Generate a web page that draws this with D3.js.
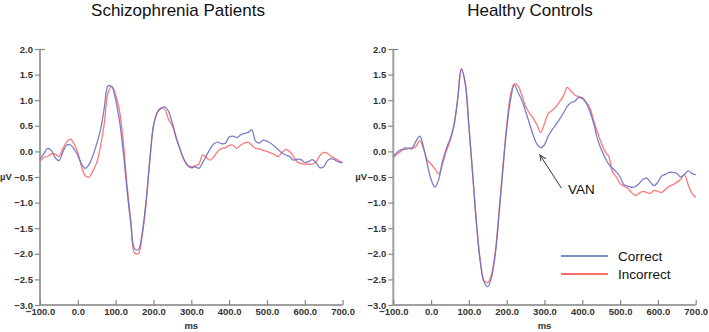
<!DOCTYPE html>
<html><head><meta charset="utf-8">
<script src="https://cdn.jsdelivr.net/npm/d3@7"></script>
<style>
body{margin:0;background:#fff;}
svg{display:block;font-family:"Liberation Sans",Arial,sans-serif;}
</style></head>
<body>
<svg id="chart" width="709" height="332"></svg>
<script>
const times = d3.range(-100, 701, 10);
const xTicks = [-100,0,100,200,300,400,500,600,700];
const yTicks = [2.0,1.5,1.0,0.5,0.0,-0.5,-1.0,-1.5,-2.0,-2.5,-3.0];
const seriesNames = ["Correct","Incorrect"];
const panelTitles = ["Schizophrenia Patients","Healthy Controls"];

const szCorrect = [-0.15,-0.05,0.06,0.02,-0.12,-0.18,-0.02,0.12,0.13,0.05,
 -0.08,-0.25,-0.33,-0.25,-0.08,0.15,0.42,0.85,1.28,1.26,
 1.0,0.6,0.0,-0.75,-1.4,-1.9,-1.92,-1.6,-1.0,-0.2,
 0.5,0.75,0.84,0.87,0.78,0.55,0.28,0.05,-0.15,-0.27,
 -0.32,-0.3,-0.33,-0.22,-0.08,0.05,0.15,0.18,0.15,0.16,
 0.28,0.3,0.27,0.32,0.35,0.37,0.42,0.2,0.16,0.22,
 0.2,0.16,0.1,0.03,-0.03,-0.07,-0.1,-0.17,-0.15,-0.16,
 -0.22,-0.2,-0.16,-0.22,-0.32,-0.3,-0.18,-0.14,-0.17,-0.21,-0.22];
const szIncorrect = [-0.2,-0.12,-0.1,-0.05,-0.05,-0.1,0.05,0.18,0.24,0.15,
 -0.02,-0.3,-0.48,-0.5,-0.38,-0.22,0.1,0.55,1.15,1.27,
 1.1,0.8,0.2,-0.65,-1.35,-1.98,-2.0,-1.65,-1.05,-0.2,
 0.5,0.77,0.85,0.82,0.62,0.5,0.25,0.05,-0.15,-0.27,
 -0.3,-0.28,-0.25,-0.07,-0.12,-0.17,-0.1,0.0,0.06,0.07,
 0.12,0.12,0.06,0.12,0.16,0.18,0.12,0.06,0.05,0.02,
 0.0,-0.03,-0.06,-0.1,-0.02,0.04,0.0,-0.1,-0.2,-0.24,
 -0.25,-0.25,-0.25,-0.2,-0.08,-0.02,-0.04,-0.1,-0.14,-0.18,-0.22];
const hcCorrect = [-0.1,-0.02,0.03,0.04,0.06,0.07,0.2,0.3,0.08,-0.25,
 -0.55,-0.7,-0.55,-0.2,0.05,0.24,0.5,1.0,1.6,1.35,
 0.5,-0.45,-1.4,-2.15,-2.55,-2.64,-2.45,-2.0,-1.2,-0.35,
 0.45,1.0,1.3,1.15,1.0,0.78,0.55,0.32,0.14,0.07,
 0.13,0.3,0.42,0.52,0.63,0.75,0.88,0.95,0.98,1.05,
 1.05,0.95,0.78,0.55,0.25,0.04,-0.12,-0.25,-0.33,-0.4,
 -0.5,-0.65,-0.68,-0.7,-0.69,-0.63,-0.55,-0.52,-0.6,-0.67,
 -0.6,-0.48,-0.45,-0.41,-0.41,-0.43,-0.5,-0.45,-0.38,-0.43,-0.46];
const hcIncorrect = [-0.12,-0.05,0.0,0.07,0.06,0.05,0.1,0.21,0.05,-0.17,
 -0.25,-0.34,-0.44,-0.25,0.0,0.2,0.48,1.0,1.62,1.35,
 0.5,-0.45,-1.4,-2.12,-2.52,-2.56,-2.4,-1.95,-1.15,-0.3,
 0.5,1.1,1.32,1.28,1.1,0.88,0.75,0.65,0.52,0.37,
 0.55,0.74,0.8,0.87,0.97,1.08,1.25,1.18,1.1,1.07,
 1.03,0.96,0.85,0.6,0.38,0.17,0.0,-0.1,-0.4,-0.5,
 -0.63,-0.68,-0.72,-0.8,-0.86,-0.82,-0.78,-0.8,-0.82,-0.76,
 -0.78,-0.8,-0.74,-0.68,-0.65,-0.6,-0.55,-0.45,-0.65,-0.82,-0.9];

const colors = {Correct:"#6a70c4", Incorrect:"#ff6868"};
const legendColors = {Correct:"#4a6aa6", Incorrect:"#ff3b3b"};

const svg = d3.select("#chart");
const panels = [
  {title:panelTitles[0], x0:40, x1:342.6, data:[szCorrect, szIncorrect], titleX:178},
  {title:panelTitles[1], x0:393.3, x1:695.7, data:[hcCorrect, hcIncorrect], titleX:530}
];
const yTop = 49, yBot = 305;

panels.forEach((p, pi) => {
  const x = d3.scaleLinear().domain([-100,700]).range([p.x0,p.x1]);
  const y = d3.scaleLinear().domain([-3,2]).range([yBot,yTop]);
  const g = svg.append("g");

  g.append("text").attr("x", p.titleX).attr("y", 16).attr("text-anchor","middle")
    .attr("font-size", 17).attr("fill","#111").text(p.title);

  // y axis
  const ya = g.append("g").attr("transform",`translate(${p.x0},0)`)
    .call(d3.axisLeft(y).tickValues(yTicks).tickSize(5).tickPadding(2).tickFormat(d3.format(".1f")));
  ya.select(".domain").attr("stroke","#a0a0a0").attr("stroke-width",2).attr("d",`M0,${yTop}V${yBot}`);
  ya.selectAll(".tick line").attr("stroke","#888").attr("stroke-width",1.2);
  ya.selectAll(".tick text").attr("font-size",9.5).attr("fill","#333").attr("font-weight","bold")
    .attr("font-family","'Liberation Sans',Arial,sans-serif");
  ya.selectAll(".tick").filter(d=>d===2).select("line").attr("x2",5).attr("x1",-5);

  // x axis
  const xa = g.append("g").attr("transform",`translate(0,${yBot})`)
    .call(d3.axisBottom(x).tickValues(xTicks).tickSize(-5).tickPadding(3).tickFormat(d3.format(".1f")));
  xa.select(".domain").attr("stroke","#a0a0a0").attr("stroke-width",2).attr("d",`M${p.x0},0H${p.x1}`);
  xa.selectAll(".tick line").attr("stroke","#888").attr("stroke-width",1.2);
  xa.selectAll(".tick text").attr("font-size",9.5).attr("fill","#333").attr("font-weight","bold")
    .attr("font-family","'Liberation Sans',Arial,sans-serif").attr("y",3).attr("dy","0.71em");

  g.append("text").attr("x",(p.x0+p.x1)/2).attr("y",329).attr("text-anchor","middle")
    .attr("font-size",9.5).attr("font-weight","bold").attr("fill","#333").text("ms");
  g.append("text").attr("x",p.x0-40 + (pi===1?2:0)).attr("y",180).attr("font-size",9.5)
    .attr("font-weight","bold").attr("fill","#333").text("µV");

  const line = d3.line().x((d,i)=>x(times[i])).y(d=>y(d)).curve(d3.curveCatmullRom.alpha(0.5));
  [1,0].forEach(si => {
    g.append("path").datum(p.data[si]).attr("d", line).attr("fill","none")
      .attr("stroke", colors[seriesNames[si]]).attr("stroke-width",1.3).attr("stroke-opacity",0.9);
  });
});

// VAN annotation (right panel)
{
  const x = d3.scaleLinear().domain([-100,700]).range([393.3,695.7]);
  const y = d3.scaleLinear().domain([-3,2]).range([yBot,yTop]);
  svg.append("defs").append("marker").attr("id","arr").attr("viewBox","0 0 10 10")
    .attr("refX",9).attr("refY",5).attr("markerWidth",7).attr("markerHeight",7).attr("orient","auto")
    .append("path").attr("d","M0,1L9,5L0,9").attr("fill","none").attr("stroke","#333").attr("stroke-width",1.3);
  svg.append("line").attr("x1",x(345)).attr("y1",y(-0.72)).attr("x2",x(288)).attr("y2",y(-0.07))
    .attr("stroke","#333").attr("stroke-width",1).attr("marker-end","url(#arr)");
  svg.append("text").attr("x",x(362)).attr("y",y(-0.84)).attr("font-size",13.5).attr("fill","#111").text("VAN");

  // legend
  seriesNames.forEach((s,i)=>{
    const yy = 256 + i*18;
    svg.append("line").attr("x1",561).attr("x2",608).attr("y1",yy).attr("y2",yy)
      .attr("stroke",legendColors[s]).attr("stroke-width",1.6);
    svg.append("text").attr("x",618).attr("y",yy+5).attr("font-size",13.5).attr("fill","#111").text(s);
  });
}
</script>
</body></html>
